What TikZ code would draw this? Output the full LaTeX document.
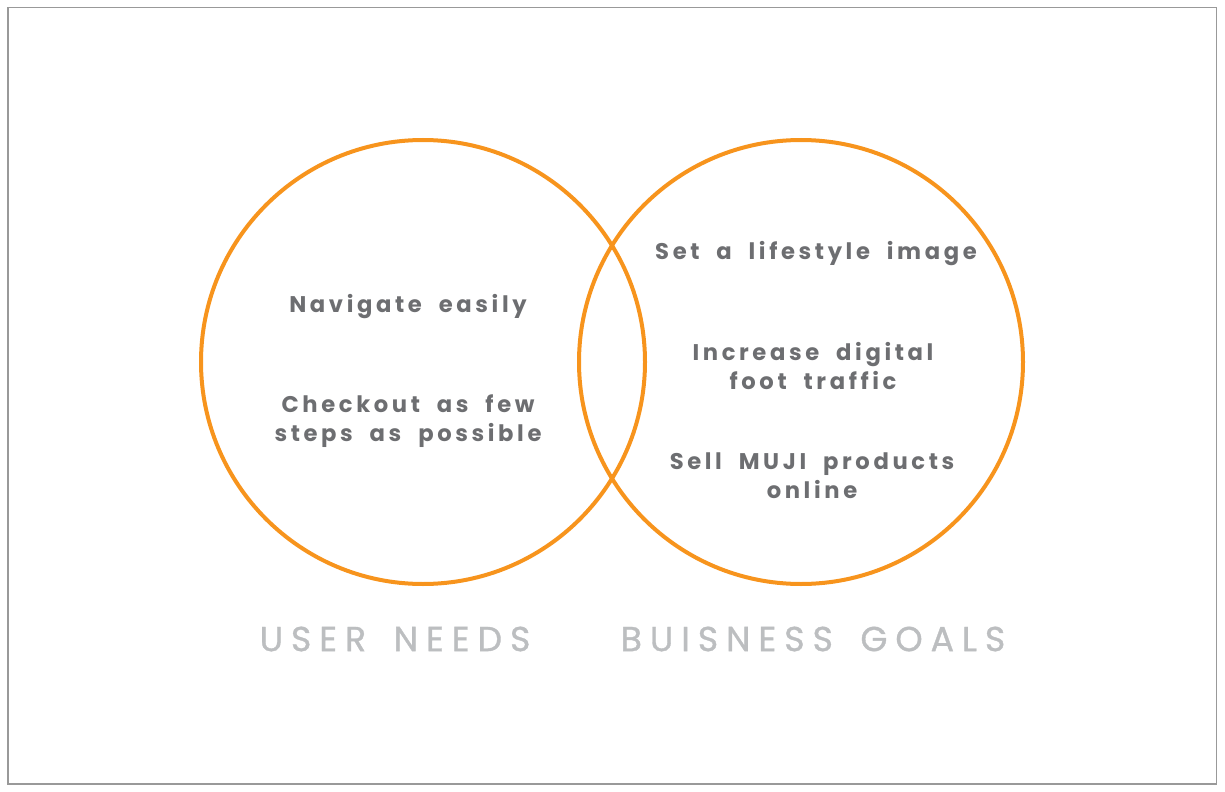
\documentclass[tikz,border=0pt]{standalone}
\usepackage{fontspec}
\setmainfont{Poppins}
\newfontfamily\bodyfont[LetterSpace=16,WordSpace=2]{Poppins}
\newfontfamily\labelfont[LetterSpace=23,WordSpace=1.6,FakeBold=1]{Poppins}
\definecolor{vorange}{HTML}{F7941D}
\definecolor{vtext}{HTML}{6D6E71}
\definecolor{vlabel}{HTML}{BCBEC0}
\definecolor{vframe}{HTML}{999999}
\begin{document}
\begin{tikzpicture}[x=0.75pt,y=-0.75pt,
  ring/.style={draw=vorange,line width=3pt,circle,minimum size=333pt,inner sep=0pt},
  item/.style={text=vtext,font=\bodyfont\bfseries\fontsize{17}{21.75}\selectfont,align=center,inner sep=0pt},
  caption/.style={text=vlabel,font=\labelfont\fontsize{26}{30}\selectfont,inner sep=0pt}]
\useasboundingbox (0,0) rectangle (1225,792);
\draw[vframe,line width=1pt] (8,7.5) rectangle (1216.5,784) ;
\node[ring] (left) at (423,362) {};
\node[ring] (right) at (801,362) {};
\node[item] (nav) at (408,307) {Navigate easily};
\node[item] (check) at (408,421) {Checkout as few\\steps as possible};
\node[item] (set) at (816,254) {Set a lifestyle image};
\node[item] (inc) at (813,366) {Increase digital\\foot traffic};
\node[item] (sell) at (812,476) {Sell MUJI products\\online};
\node[caption] (user) at (395,639) {USER NEEDS};
\node[caption] (biz) at (813,639) {BUISNESS GOALS};
\end{tikzpicture}
\end{document}
